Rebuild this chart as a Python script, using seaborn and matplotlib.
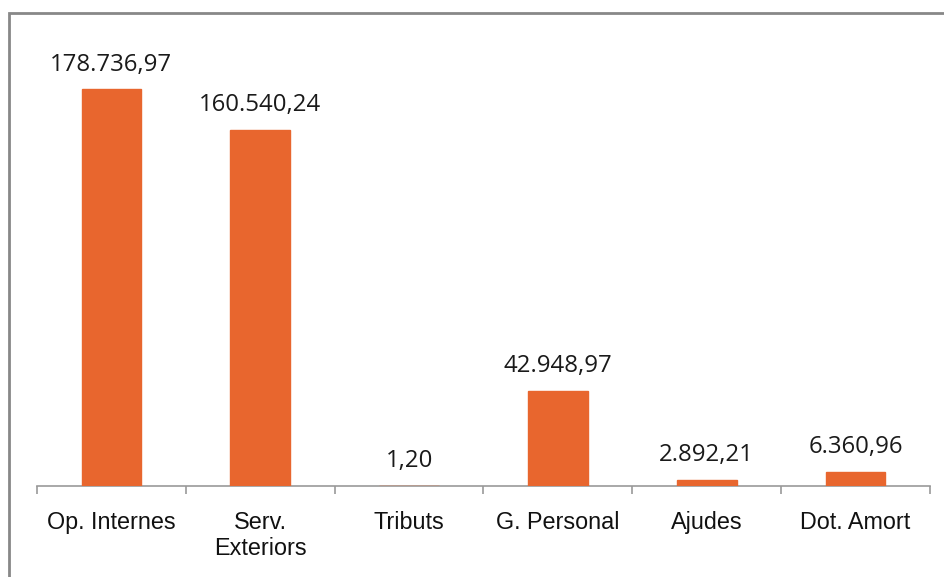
import matplotlib
matplotlib.use('Agg')
import matplotlib.pyplot as plt
import seaborn as sns
import pandas as pd
from matplotlib.patches import Rectangle

categories = ['Op. Internes', 'Serv.\nExteriors', 'Tributs', 'G. Personal', 'Ajudes', 'Dot. Amort']
values = [178736.97, 160540.24, 1.20, 42948.97, 2892.21, 6360.96]

def fmt(v):
    # catalan style number: 1.234,56
    s = f'{v:,.2f}'
    return s.replace(',', 'X').replace('.', ',').replace('X', '.')

df = pd.DataFrame({'cat': categories, 'val': values})

sns.set_style('white')
plt.rcParams['font.family'] = ['Liberation Sans', 'DejaVu Sans']

fig = plt.figure(figsize=(9.44, 5.77), dpi=100)
ax = fig.add_axes([37/944, 1 - 486/577, (930 - 37)/944, (486 - 42)/577])

sns.barplot(data=df, x='cat', y='val', color='#E8662E', saturation=1, width=0.4,
            edgecolor='#E8662E', linewidth=1, ax=ax, zorder=3)
ax.set_ylim(0, 200000)
ax.set_xlim(-0.5, len(categories) - 0.5)

for i, v in enumerate(values):
    ax.annotate(fmt(v), (i, v), xytext=(0, 9), textcoords='offset points',
                ha='center', va='bottom', fontsize=17.3, color='#1a1a1a',
                family=['Open Sans', 'DejaVu Sans'])

for s in ['top', 'right', 'left']:
    ax.spines[s].set_visible(False)
ax.spines['bottom'].set_color('#999999')
ax.spines['bottom'].set_linewidth(1.2)
ax.spines['bottom'].set_zorder(2)
ax.set_yticks([])
ax.set_xlabel('')
ax.set_ylabel('')

# ticks between categories
ax.set_xticks([i - 0.5 for i in range(len(categories) + 1)], minor=False)
ax.set_xticklabels([])
ax.tick_params(axis='x', which='both', bottom=True)
ax.tick_params(axis='x', which='major', direction='out', length=6, width=1.2, color='#999999')
ax.set_xticks(range(len(categories)), minor=True)
ax.set_xticklabels(categories, minor=True, fontsize=16.8, color='#111111', linespacing=1.15)
ax.tick_params(axis='x', which='minor', length=0, pad=18)

# outer frame
fig.patches.append(Rectangle((9/944, -0.1), 1.1, 1 - 13/577 + 0.1, transform=fig.transFigure,
                             fill=False, edgecolor='#888888', linewidth=2))

fig.savefig('out.png', dpi=100)
